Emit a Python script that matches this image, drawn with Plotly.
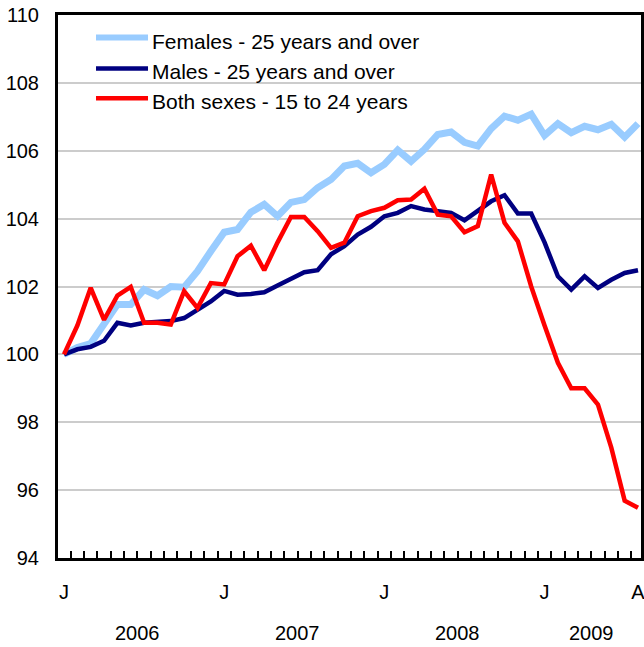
import plotly.graph_objects as go

# monthly index, Jan 2006 .. Aug 2009
months = list(range(44))

females_25_plus = [
    100.0, 100.2, 100.32, 100.93, 101.47, 101.47, 101.91, 101.73, 102.0, 101.98, 102.45, 103.04,
    103.6, 103.68, 104.19, 104.42, 104.07, 104.48, 104.56, 104.91, 105.15, 105.55, 105.63, 105.35,
    105.6, 106.02, 105.69, 106.04, 106.48, 106.55, 106.25, 106.14, 106.65, 107.02, 106.9, 107.08,
    106.45, 106.8, 106.53, 106.72, 106.62, 106.78, 106.4, 106.8,
]
males_25_plus = [
    100.0, 100.15, 100.22, 100.4, 100.93, 100.85, 100.93, 100.95, 100.98, 101.07, 101.32, 101.56,
    101.87, 101.76, 101.78, 101.83, 102.03, 102.22, 102.42, 102.48, 102.95, 103.19, 103.53, 103.76,
    104.07, 104.17, 104.37, 104.27, 104.22, 104.17, 103.95, 104.22, 104.51, 104.69, 104.15, 104.15,
    103.3, 102.3, 101.91, 102.3, 101.96, 102.2, 102.4, 102.48,
]
both_15_24 = [
    100.0, 100.85, 101.96, 101.02, 101.73, 101.99, 100.93, 100.93, 100.88, 101.86, 101.37, 102.1,
    102.06, 102.89, 103.2, 102.48, 103.3, 104.05, 104.05, 103.63, 103.14, 103.29, 104.07, 104.22,
    104.32, 104.54, 104.56, 104.88, 104.12, 104.07, 103.6, 103.78, 105.3, 103.88, 103.33, 102.0,
    100.85, 99.75, 99.0, 99.0, 98.52, 97.25, 95.69, 95.48,
]

series_names = ['Females - 25 years and over', 'Males - 25 years and over', 'Both sexes - 15 to 24 years']
series_colors = ['#99CCFF', '#000080', '#FF0000']
series_widths = [7, 4.5, 4.5]

month_tick_pos = [0, 12, 24, 36, 43]
month_tick_text = ['J', 'J', 'J', 'J', 'A']
years = ['2006', '2007', '2008', '2009']
year_centers = [5.5, 17.5, 29.5, 39.5]

font_family = 'Liberation Sans, Arial, Helvetica, sans-serif'

fig = go.Figure()

for vals, name, color, width in zip([females_25_plus, males_25_plus, both_15_24],
                                    series_names, series_colors, series_widths):
    fig.add_trace(go.Scatter(
        x=months, y=vals, mode='lines',
        name=name,
        line=dict(color=color, width=width)
    ))

# hand-made legend (longer sample lines than plotly's built-in one)
fig.add_shape(type='rect', xref='paper', yref='paper',
              x0=0.0515, x1=0.638, y0=0.823, y1=0.985,
              fillcolor='white', line=dict(width=0), layer='between')
legend_line_y = [0.9585, 0.9017, 0.8469]
legend_text_y = [0.952, 0.8958, 0.8413]
for name, color, width, ly, ty in zip(series_names, series_colors, series_widths,
                                      legend_line_y, legend_text_y):
    fig.add_shape(type='line', xref='paper', yref='paper',
                  x0=0.0652, x1=0.1544, y0=ly, y1=ly,
                  line=dict(color=color, width=min(width, 6)))
    fig.add_annotation(x=0.158, y=ty, xref='paper', yref='paper',
                       text=name, showarrow=False,
                       xanchor='left', yanchor='middle',
                       font=dict(size=21, color='black', family=font_family))

for yr, xc in zip(years, year_centers):
    fig.add_annotation(
        x=xc, y=-0.138, xref='x', yref='paper',
        text=yr, showarrow=False,
        font=dict(size=20, color='black', family=font_family),
        xanchor='center', yanchor='middle'
    )

fig.update_layout(
    width=644,
    height=647,
    margin=dict(l=58, r=3, t=15, b=89),
    plot_bgcolor='white',
    paper_bgcolor='white',
    font=dict(family=font_family, size=20, color='black'),
    showlegend=False
)

fig.update_xaxes(
    range=[-0.45, 43.225],
    tickmode='array',
    tickvals=month_tick_pos,
    ticktext=month_tick_text,
    ticks='',
    ticklabelstandoff=14,
    ticklabeloverflow='allow',
    automargin=False,
    showgrid=False,
    zeroline=False,
    showline=True,
    linewidth=3,
    linecolor='black',
    mirror=True,
    minor=dict(
        tick0=0.5, dtick=1,
        ticks='inside', ticklen=7, tickwidth=2, tickcolor='black',
        showgrid=False
    )
)

fig.update_yaxes(
    range=[94, 110],
    dtick=2,
    ticks='',
    ticklabelstandoff=12,
    ticklabeloverflow='allow',
    automargin=False,
    showgrid=True,
    gridwidth=2,
    gridcolor='#CCCCCC',
    zeroline=False,
    showline=True,
    linewidth=3,
    linecolor='black',
    mirror=True
)

# drop the default 8px page margin so the figure sits at the window's corner
fig.write_html(
    "out.html",
    config={'displayModeBar': False},
    post_script="document.body.style.margin='0';document.body.style.overflow='hidden';"
)
